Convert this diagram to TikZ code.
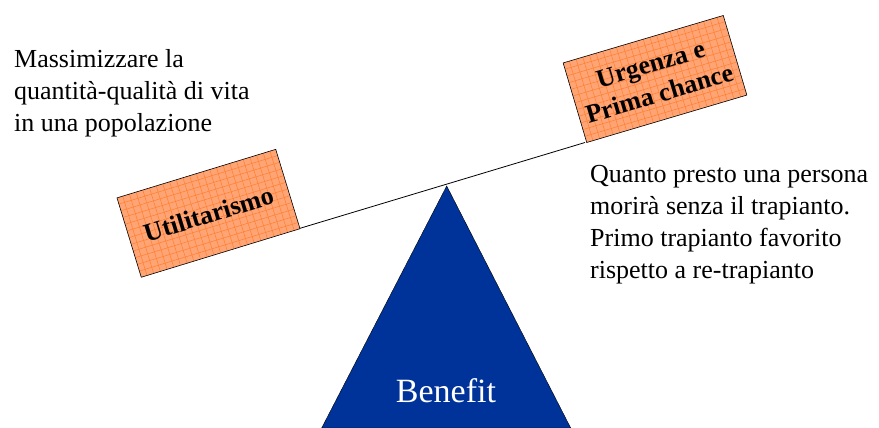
\documentclass[tikz,border=0pt]{standalone}
\usepackage{fontspec}
\setmainfont{Liberation Serif}
\begin{document}
\begin{tikzpicture}[x=1pt,y=-1pt,
  note/.style={inner sep=0pt, align=left, anchor=north west,
    font=\fontsize{26}{31.7}\selectfont},
  boxlabel/.style={inner sep=0pt, align=center,
    font=\fontsize{26}{31}\selectfont\bfseries},
  plategrid/.style={draw=gridorange, line width=0.5pt},
  beam/.style={draw=black, line width=0.8pt},
  pivot/.style={fill=pivotblue, draw=black, line width=0.4pt}]
\definecolor{boxorange}{HTML}{FFA474}
\definecolor{gridorange}{HTML}{FF7F2E}
\definecolor{pivotblue}{HTML}{003399}
\useasboundingbox (0,0) rectangle (879,428);

% fulcrum
\coordinate (apex) at (446.7,186);
\coordinate (baseL) at (321.7,428);
\coordinate (baseR) at (570.7,428);
\fill[pivot] (apex) -- (baseR) -- (baseL) -- cycle;
\node[text=white, inner sep=0pt, font=\fontsize{34}{40}\selectfont] (benefit) at (446,391) {Benefit};

% beam of the balance
\coordinate (beamL) at (300,228.3);
\coordinate (beamR) at (585,142.5);
\draw[beam] (beamL) -- (beamR);

% a gridded plate of half width #1 and half height #2
\newcommand{\gridplate}[2]{%
  \fill[boxorange] (-#1,-#2) rectangle (#1,#2);
  \begin{scope}
    \clip (-#1,-#2) rectangle (#1,#2);
    \foreach \gx in {-84,-77,...,90} \draw[plategrid] (\gx,-50) -- (\gx,50);
    \foreach \gy in {-42,-35,...,50} \draw[plategrid] (-90,\gy) -- (90,\gy);
  \end{scope}
  \draw[line width=0.6pt] (-#1,-#2) rectangle (#1,#2);}

% left plate
\begin{scope}[shift={(208.5,213.3)}, rotate=17]
  \gridplate{83}{41.5}
\end{scope}
\node[boxlabel, rotate=17] (util) at (208.5,214) {Utilitarismo};

% right plate
\begin{scope}[shift={(655,79)}, rotate=16.5]
  \gridplate{83.5}{41.5}
\end{scope}
\node[boxlabel, rotate=16.5] (urg) at (655,79) {Urgenza e\\Prima chance};

% descriptions
\node[note] (left) at (14,49.5) {Massimizzare la\\quantità-qualità di vita\\in una popolazione};
\node[note] (right) at (590,165.5) {Quanto presto una persona\\morirà senza il trapianto.\\Primo trapianto favorito\\rispetto a re-trapianto};
\end{tikzpicture}
\end{document}
